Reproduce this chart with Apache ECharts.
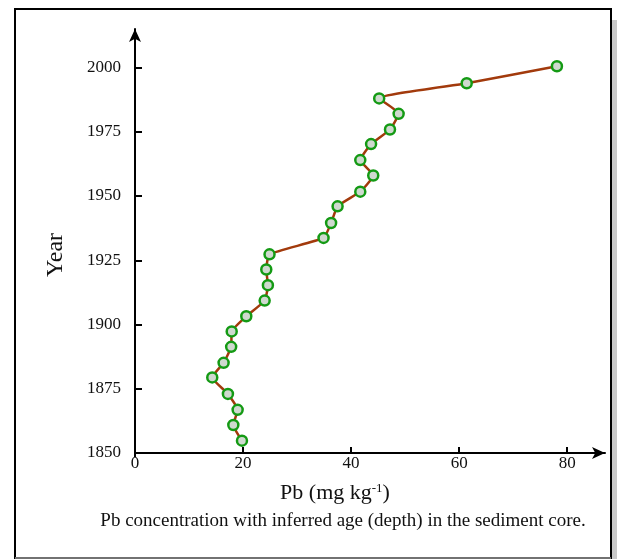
<!DOCTYPE html>
<html>
<head>
<meta charset="utf-8">
<script src="https://cdn.jsdelivr.net/npm/echarts@6/dist/echarts.min.js"></script>
<style>
html,body{margin:0;padding:0;background:#fff;}
#chart{width:617px;height:559px;}
</style>
</head>
<body>
<div id="chart"></div>
<script>
// Pb concentration (mg/kg) and inferred year
const pbValues = [19.8, 18.2, 19.0, 17.2, 14.3, 16.4, 17.8, 17.9, 20.6, 24.0, 24.6, 24.3, 24.9, 34.9, 36.3, 37.5, 41.7, 44.1, 41.7, 43.7, 47.2, 48.8, 45.2, 61.4, 78.1];
const years    = [1854.8, 1860.9, 1866.8, 1873.0, 1879.4, 1885.1, 1891.3, 1897.3, 1903.2, 1909.3, 1915.3, 1921.4, 1927.3, 1933.7, 1939.5, 1946.0, 1951.7, 1958.0, 1964.0, 1970.2, 1975.9, 1982.0, 1988.0, 1993.9, 2000.5];
const xTicks = [0, 20, 40, 60, 80];
const yTicks = [1850, 1875, 1900, 1925, 1950, 1975, 2000];
const xAxisTitle = 'Pb (mg kg';
const yAxisTitle = 'Year';
const caption = 'Pb concentration with inferred age (depth) in the sediment core.';

const points = pbValues.map((v, i) => [v, years[i]]);
const serif = '"Liberation Serif", "DejaVu Serif", serif';

const chart = echarts.init(document.getElementById('chart'), null, {renderer: 'canvas'});
chart.setOption({
  animation: false,
  backgroundColor: '#fff',
  grid: {left: 135, right: 12, top: 29, bottom: 106, containLabel: false},
  xAxis: {
    type: 'value', min: 0, max: 87,
    axisLine: {show: true, lineStyle: {color: '#000', width: 2}, symbol: ['none', 'arrow'], symbolSize: [9, 13]},
    axisTick: {show: true, inside: true, length: 6, lineStyle: {color: '#000', width: 2}, customValues: xTicks},
    axisLabel: {show: true, color: '#111', fontFamily: serif, fontSize: 17, margin: 2, customValues: xTicks,
      formatter: v => String(v)},
    splitLine: {show: false}
  },
  yAxis: {
    type: 'value', min: 1850, max: 2015,
    axisLine: {show: true, lineStyle: {color: '#000', width: 2}, symbol: ['none', 'arrow'], symbolSize: [9, 13]},
    axisTick: {show: true, inside: true, length: 7, lineStyle: {color: '#000', width: 2}, customValues: yTicks},
    axisLabel: {show: true, color: '#111', fontFamily: serif, fontSize: 17, margin: 14, customValues: yTicks,
      formatter: v => String(v)},
    splitLine: {show: false}
  },
  series: [{
    type: 'line',
    data: points,
    smooth: 0.15,
    lineStyle: {color: '#a23a0c', width: 2.5},
    symbol: 'circle',
    symbolSize: 10,
    itemStyle: {color: '#cfd9cf', borderColor: '#149a14', borderWidth: 2.5},
    z: 3
  }],
  graphic: [
    {type: 'rect', shape: {x: 612, y: 20, width: 5, height: 539}, style: {fill: '#c8c8c8'}, silent: true, z: 0},
    {type: 'rect', shape: {x: 15, y: 9, width: 596, height: 549}, style: {fill: 'none', stroke: '#000', lineWidth: 2}, silent: true, z: 1},
    {type: 'line', shape: {x1: 15, y1: 558, x2: 611, y2: 558}, style: {stroke: '#999', lineWidth: 1.5}, silent: true, z: 2},
    {type: 'line', shape: {x1: 135, y1: 452, x2: 135, y2: 457}, style: {stroke: '#000', lineWidth: 2}, silent: true, z: 2},
    {type: 'text', x: 56, y: 255, rotation: Math.PI / 2,
     style: {text: yAxisTitle, font: '24px ' + serif, fill: '#111', align: 'center', verticalAlign: 'middle'}},
    {type: 'text', x: 335, y: 493,
     style: {text: '{m|' + xAxisTitle + '}{s|-1}{m|)}', align: 'center', verticalAlign: 'middle',
       rich: {m: {font: '22px ' + serif, fill: '#111'}, s: {font: '13px ' + serif, fill: '#111', verticalAlign: 'top', padding: [0, 0, 9, 0]}}}},
    {type: 'text', x: 343, y: 521,
     style: {text: caption, font: '19px ' + serif, fill: '#111', align: 'center', verticalAlign: 'middle'}}
  ]
});
</script>
</body>
</html>
